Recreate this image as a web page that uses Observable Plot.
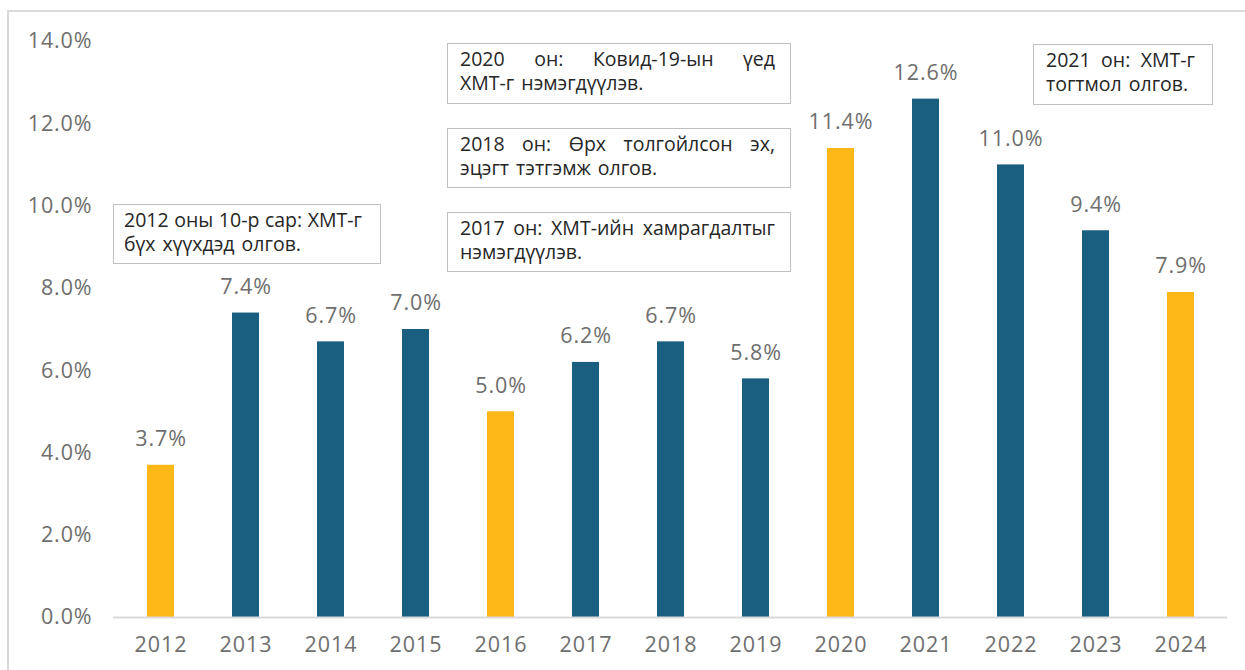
<!DOCTYPE html>
<html>
<head>
<meta charset="utf-8">
<script src="https://cdn.jsdelivr.net/npm/d3@7"></script>
<script src="https://cdn.jsdelivr.net/npm/@observablehq/plot@0.6"></script>
<style>
  html, body { margin: 0; padding: 0; background: #fff; }
  #wrap { position: relative; width: 1245px; height: 670px; overflow: hidden; }
  #frame { position: absolute; left: 7px; top: 10px; width: 1250px; height: 700px; border: 2px solid #d9d9d9; box-sizing: border-box; }
  #chart { position: absolute; left: 0; top: 0; }
  #chart svg text { letter-spacing: 0.9px; }
  .note { position: absolute; box-sizing: border-box; border: 1.5px solid #bfbfbf; background: #fff;
          font-family: "Open Sans", "Noto Sans", sans-serif; font-size: 19.5px; line-height: 24px; color: #262626;
          word-spacing: 2px; white-space: nowrap; }
  .note .ln { display: block; }
  .note .ln span { display: inline-block; }
</style>
</head>
<body>
<div id="wrap">
  <div id="frame"></div>
  <div id="chart"></div>
</div>
<script>
const years = ["2012","2013","2014","2015","2016","2017","2018","2019","2020","2021","2022","2023","2024"];
const values = [3.7, 7.4, 6.7, 7.0, 5.0, 6.2, 6.7, 5.8, 11.4, 12.6, 11.0, 9.4, 7.9];
const highlightYears = ["2012","2016","2020","2024"];
const yTicks = [0, 2, 4, 6, 8, 10, 12, 14];
const noteLines = [
  ["2012 оны 10-р сар: ХМТ-г", "бүх хүүхдэд олгов."],
  ["2020 он: Ковид-19-ын үед", "ХМТ-г нэмэгдүүлэв."],
  ["2018 он: Өрх толгойлсон эх,", "эцэгт тэтгэмж олгов."],
  ["2017 он: ХМТ-ийн хамрагдалтыг", "нэмэгдүүлэв."],
  ["2021 он: ХМТ-г", "тогтмол олгов."]
];
// box layout (pixels): left, top, width, height, padLeft, padRight
const noteBoxes = [
  [113, 204, 268, 60, 10, 17],
  [447, 43, 344, 61, 12, 14],
  [447, 128, 344, 60, 12, 14],
  [447, 212, 344, 60, 12, 14],
  [1033, 44, 180, 61, 12, 16]
];

const data = years.map((y, i) => ({year: y, value: values[i], hl: highlightYears.includes(y)}));
const font = "'Open Sans', 'Noto Sans', sans-serif";
const fmt = d => d.toFixed(1) + "%";

const chart = Plot.plot({
  width: 1245,
  height: 670,
  marginTop: 41,
  marginBottom: 53,
  marginLeft: 113,
  marginRight: 18,
  style: {fontFamily: font, fontSize: "21.5px", color: "#6e6e6e", background: "transparent"},
  x: {domain: years, paddingInner: 0.685, paddingOuter: 0.3425, label: null},
  y: {domain: [0, 14], label: null},
  marks: [
    Plot.axisX({tickSize: 0, tickPadding: 19, fontSize: 21.5, fill: "#6e6e6e"}),
    Plot.axisY({ticks: yTicks, tickFormat: fmt, tickSize: 0, tickPadding: 21, fontSize: 21.5, fill: "#6e6e6e"}),
    Plot.barY(data, {x: "year", y: "value", fill: d => d.hl ? "#fbb817" : "#1a5f80"}),
    Plot.ruleY([0], {stroke: "#d9d9d9", strokeWidth: 2}),
    Plot.text(data, {x: "year", y: "value", text: d => fmt(d.value), dy: -26, fill: "#6e6e6e", fontSize: 21.5})
  ]
});
document.getElementById("chart").appendChild(chart);

const wrap = document.getElementById("wrap");
noteLines.forEach((lines, i) => {
  const [l, tp, w, h, pl, pr] = noteBoxes[i];
  const div = document.createElement("div");
  div.className = "note";
  div.style.left = l + "px"; div.style.top = tp + "px";
  div.style.width = w + "px"; div.style.height = h + "px";
  div.style.padding = `3px ${pr}px 0 ${pl}px`;
  const inner = w - pl - pr - 3;
  lines.forEach((t, k) => {
    const ln = document.createElement("span");
    ln.className = "ln";
    const s = document.createElement("span");
    s.textContent = t;
    ln.appendChild(s);
    div.appendChild(ln);
    wrap.appendChild(div);
    if (k === 0) {
      const gaps = (t.match(/ /g) || []).length;
      const natural = s.getBoundingClientRect().width;
      if (gaps > 0) {
        const extra = (inner - natural) / gaps;
        s.style.wordSpacing = (2 + extra) + "px";
      }
    }
  });
});
</script>
</body>
</html>
